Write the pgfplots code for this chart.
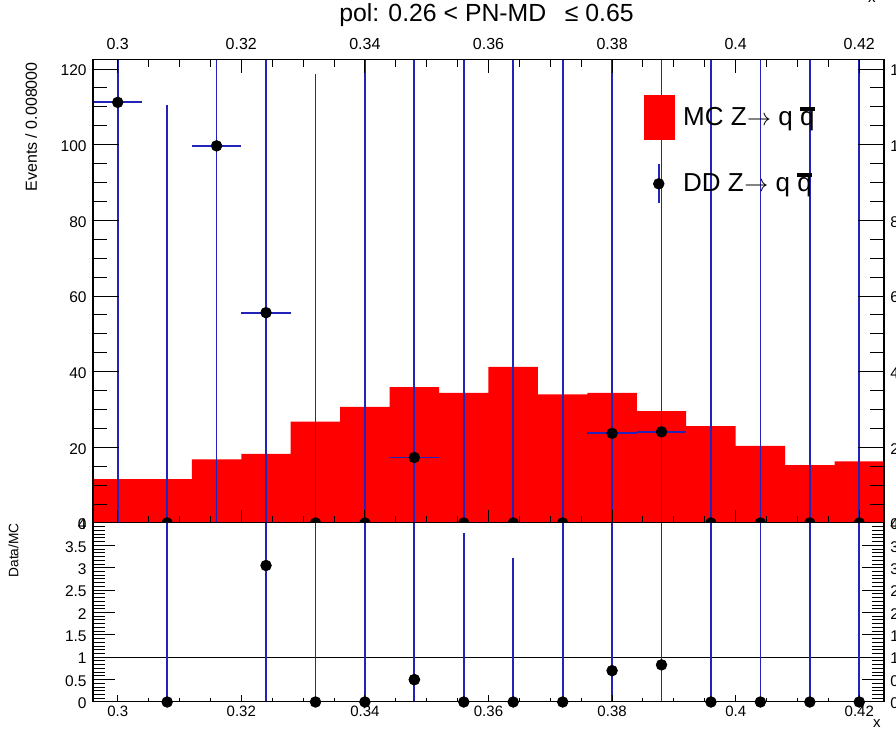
\documentclass[border=0pt]{standalone}
\usepackage{pgfplots}
\pgfplotsset{compat=1.18}
\usepackage{pgfplotstable}
\usepackage{fontspec}
\setmainfont{Liberation Sans}
\definecolor{errblue}{RGB}{35,35,185}
\newcommand\qbar{\leavevmode\rlap{\rule[0.55em]{0.58em}{0.15em}}q}
\newcommand\tickfont{\fontsize{7.75}{9}\selectfont}
\newcommand\zto{Z\kern0.02em$\rightarrow$}

\pgfplotstableread{
x y
0.296 11.6
0.304 11.6
0.312 16.8
0.320 18.3
0.328 26.8
0.336 30.7
0.344 35.9
0.352 34.4
0.360 41.3
0.368 34.0
0.376 34.4
0.384 29.6
0.392 25.6
0.400 20.4
0.408 15.3
0.416 16.3
0.424 16.3
}\mctable

\pgfplotstableread{
x y ex eyp eym
0.300 111.2 0.004 300 300
0.308 0 0 110.4 0
0.316 99.7 0.004 300 300
0.324 55.6 0.004 300 300
0.332 0 0 118.6 0
0.340 0 0 300 0
0.348 17.3 0.004 300 300
0.356 0 0 300 0
0.364 0 0 300 0
0.372 0 0 300 0
0.380 23.7 0.004 300 300
0.388 24.1 0.004 300 300
0.396 0 0 300 0
0.404 0 0 300 0
0.412 0 0 300 0
0.420 0 0 300 0
}\ddtable

\pgfplotstableread{
x y eyp eym
0.308 0 10 0
0.324 3.05 10 10
0.332 0 10 0
0.348 0.50 0 0.5
0.380 0.70 10 10
0.388 0.83 10 10
0.396 0 10 0
0.404 0 10 0
0.412 0 10 0
0.420 0 10 0
}\rationocap

\pgfplotstableread{
x y eyp
0.340 0 3.93
0.348 0.50 3.43
0.356 0 3.69
0.364 0 3.13
0.372 0 3.93
}\ratiocap

\pgfplotsset{
  padbase/.style={
    scale only axis, width=395.5pt, xmin=0.296, xmax=0.424,
    anchor=south west,
    axis line style={black, line width=0.5pt},
    tick style={black, line width=0.5pt},
    tick align=inside,
    ticklabel style={font=\tickfont},
  },
  upperpad/.style={padbase, at={(46.5pt,103pt)}, height=231.5pt, ymin=0, ymax=122.4,
    ytick={0,20,40,60,80,100,120}, yticklabels={0,20,40,60,80,100,120}},
  lowerpad/.style={padbase, at={(46.5pt,13.5pt)}, height=89.5pt, ymin=0, ymax=4,
    ytick={0,0.5,1,1.5,2,2.5,3,3.5,4}, yticklabels={0,0.5,1,1.5,2,2.5,3,3.5,4}},
  xt/.style={xtick={0.30,0.32,0.34,0.36,0.38,0.40,0.42},
    xticklabels={0.3,0.32,0.34,0.36,0.38,0.4,0.42}, minor x tick num=3},
  ebar/.style={draw=errblue, line width=0.9pt},
}

\begin{document}
\begin{tikzpicture}
\useasboundingbox (0,0) rectangle (448pt,364.5pt);

% ---------- upper pad: data, y ticks, left labels ----------
\begin{axis}[upperpad, axis on top, clip marker paths=true,
  xtick=\empty,
  ytick pos=both, yticklabel pos=left, minor y tick num=3,
  major tick length=13pt, minor tick length=6.8pt,
  yticklabel style={anchor=east, inner sep=0pt, xshift=-3pt, yshift=-0.7pt},
  ylabel={Events / 0.008000},
  ylabel style={at={(axis description cs:-0.0708,0.9957)}, anchor=base east, inner sep=0pt, font=\fontsize{8}{9}\selectfont},
  title={pol: 0.26 < PN-MD\hspace{0.75em}≤ 0.65},
  title style={at={(axis description cs:0.5,1)}, anchor=base, inner sep=0pt, yshift=13pt, xshift=-1pt, font=\fontsize{12.4}{14}\selectfont},
  legend style={at={(axis description cs:0.6953,0.9244)}, anchor=north west, draw=none, fill=none,
    inner sep=0pt, row sep=11.5pt, column sep=4pt, nodes={inner sep=0pt},
    font=\fontsize{13}{16}\selectfont},
  legend cell align=left,
]
\addplot[fill=red, draw=none, const plot,
  legend image code/.code={\fill[red] (0pt,-11.25pt) rectangle (15.5pt,11.25pt);}]
  table[x=x,y=y] {\mctable} \closedcycle;
\addlegendentry{MC \zto\ q \qbar}
\addplot[errblue, only marks, mark=none,
  legend image code/.code={\draw[errblue, line width=0.9pt] (7.5pt,-9.75pt) -- (7.5pt,9.75pt);
     \fill[black] (7.5pt,0pt) circle (2.65pt); \path (0pt,0pt) (15.5pt,0pt);},
  error bars/.cd, x dir=both, x explicit, y dir=both, y explicit,
  error mark=none, error bar style={ebar}]
  table[x=x, y=y, x error=ex, y error plus=eyp, y error minus=eym] {\ddtable};
\addlegendentry{DD \zto\ q \qbar}
\addplot[only marks, mark=*, mark size=2.65pt, black, mark options={fill=black, draw=black}, forget plot]
  table[x=x, y=y] {\ddtable};
\end{axis}

% ---------- upper pad: x ticks (top labels), right labels ----------
\begin{axis}[upperpad, xt,
  xtick pos=both, xticklabel pos=right,
  major tick length=6.5pt, minor tick length=3.3pt,
  xticklabel style={anchor=base, inner sep=0pt, yshift=5pt, font=\fontsize{8}{9}\selectfont},
  ytick pos=right, yticklabel pos=right, ytick style={draw=none},
  yticklabel style={anchor=west, inner sep=0pt, xshift=3pt, yshift=-0.7pt},
  xlabel={x},
  xlabel style={at={(axis description cs:1,1)}, anchor=base east, inner sep=0pt, yshift=28.5pt, xshift=-4pt, font=\fontsize{7.5}{9}\selectfont},
]
\end{axis}

% ---------- lower pad: ratio, y ticks, left labels ----------
\begin{axis}[lowerpad, axis on top,
  xtick=\empty,
  ytick pos=both, yticklabel pos=left, minor y tick num=5,
  major tick length=10.8pt, minor tick length=5.8pt,
  yticklabel style={anchor=east, inner sep=0pt, xshift=-3pt, yshift=-0.7pt},
  ylabel={Data/MC},
  ylabel style={at={(axis description cs:-0.0944,1)}, anchor=base east, inner sep=0pt, font=\fontsize{6.85}{8}\selectfont},
]
\addplot[black, line width=0.5pt, forget plot] coordinates {(0.296,1) (0.424,1)};
\addplot[errblue, only marks, mark=none, forget plot,
  error bars/.cd, y dir=both, y explicit,
  error mark=none, error bar style={ebar}]
  table[x=x, y=y, y error plus=eyp, y error minus=eym] {\rationocap};
\addplot[errblue, only marks, mark=none, forget plot,
  error bars/.cd, y dir=plus, y explicit,
  error mark=-, error bar style={ebar},
  error mark options={errblue, mark size=1.75pt, line width=0.9pt}]
  table[x=x, y=y, y error plus=eyp] {\ratiocap};
\addplot[only marks, mark=*, mark size=2.65pt, black, mark options={fill=black, draw=black}, forget plot]
  table[x=x, y=y] {\rationocap};
\addplot[only marks, mark=*, mark size=2.65pt, black, mark options={fill=black, draw=black}, forget plot]
  table[x=x, y=y] {\ratiocap};
\end{axis}

% ---------- lower pad: x ticks (bottom labels), right labels ----------
\begin{axis}[lowerpad, xt,
  xtick pos=left, xticklabel pos=left,
  major tick length=3.5pt, minor tick length=1.75pt,
  xticklabel style={anchor=base, inner sep=0pt, yshift=-7.25pt, font=\fontsize{7.5}{9}\selectfont},
  ytick pos=right, yticklabel pos=right, ytick style={draw=none},
  yticklabel style={anchor=west, inner sep=0pt, xshift=3pt, yshift=-0.7pt},
  xlabel={x},
  xlabel style={at={(axis description cs:1,0)}, anchor=base east, inner sep=0pt, yshift=-13pt, xshift=-1.5pt, font=\fontsize{7.5}{9}\selectfont},
]
\end{axis}
\end{tikzpicture}
\end{document}
